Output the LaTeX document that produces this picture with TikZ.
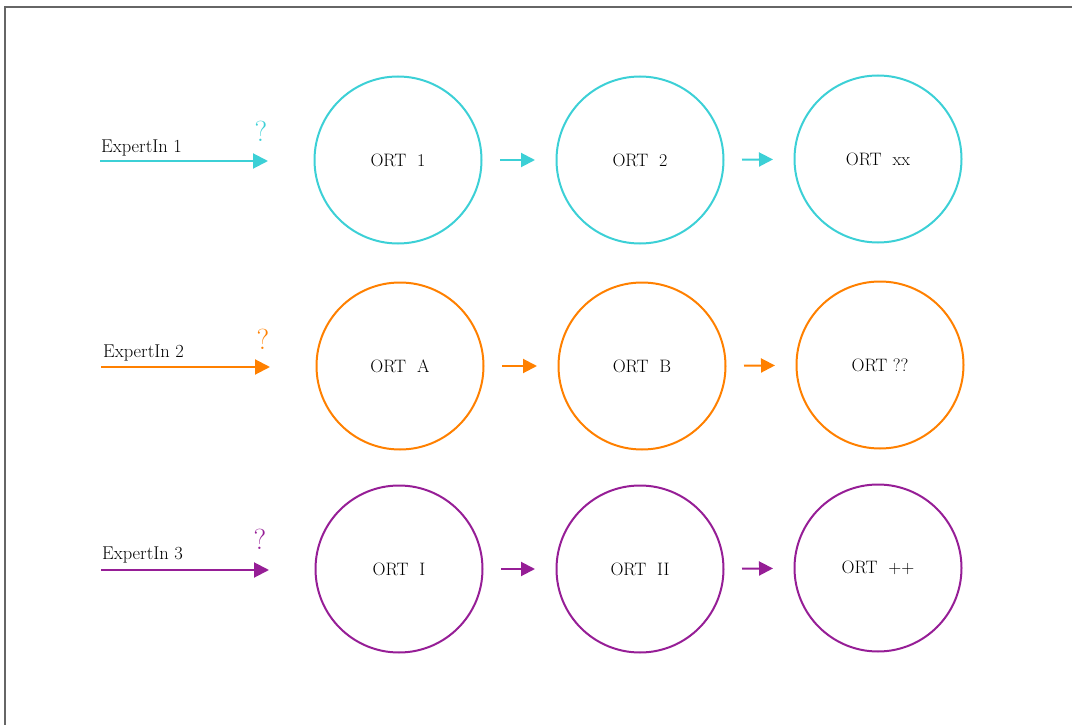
\documentclass[tikz,border=0pt]{standalone}
\usetikzlibrary{arrows.meta}
\definecolor{cy}{RGB}{60,208,214}
\definecolor{og}{RGB}{255,128,0}
\definecolor{pu}{RGB}{150,30,150}
\begin{document}
\begin{tikzpicture}[x=1pt,y=-1pt,
  ort/.style={circle,draw=#1,line width=2pt,minimum size=167pt,inner sep=0pt,font=\fontsize{18}{21}\selectfont},
  link/.style={draw=#1,line width=2pt,-{Triangle[length=14pt,width=14pt]},shorten <=17.5pt,shorten >=20.5pt},
  lead/.style={draw=#1,line width=2pt,-{Triangle[length=15pt,width=15pt]}},
  lbl/.style={anchor=base west,inner sep=0pt,font=\fontsize{18.5}{21}\selectfont},
  qm/.style={text=#1,inner sep=0pt,font=\fontsize{29}{31}\selectfont}]
\useasboundingbox (0,0) rectangle (1072,725);
\draw[line width=1.5pt,draw=black!60] (5,726) -- (5,7) -- (1073,7);
% row 1
\node[ort=cy] (a1) at (398,160) {ORT\ \ 1};
\node[ort=cy] (a2) at (640,160) {ORT\ \ 2};
\node[ort=cy] (a3) at (878,159) {ORT\ \ xx};
\draw[link=cy] (a1) -- (a2);
\draw[link=cy] (a2) -- (a3);
\coordinate (s1) at (100,161);
\coordinate (e1) at (268,161);
\draw[lead=cy] (s1) -- (e1);
\node[lbl] (t1) at (101,152) {ExpertIn 1};
\node[qm=cy] (q1) at (261,131) {?};
% row 2
\node[ort=og] (b1) at (400,366) {ORT\ \ A};
\node[ort=og] (b2) at (642,366) {ORT\ \ B};
\node[ort=og] (b3) at (880,365) {ORT\ ??};
\draw[link=og] (b1) -- (b2);
\draw[link=og] (b2) -- (b3);
\coordinate (s2) at (101,367);
\coordinate (e2) at (270,367);
\draw[lead=og] (s2) -- (e2);
\node[lbl] (t2) at (103,357) {ExpertIn 2};
\node[qm=og] (q2) at (263,339) {?};
% row 3
\node[ort=pu] (c1) at (399,569) {ORT\ \ I};
\node[ort=pu] (c2) at (640,569) {ORT\ \ II};
\node[ort=pu] (c3) at (878,568) {ORT\ \ ++};
\draw[link=pu] (c1) -- (c2);
\draw[link=pu] (c2) -- (c3);
\coordinate (s3) at (101,570);
\coordinate (e3) at (269,570);
\draw[lead=pu] (s3) -- (e3);
\node[lbl] (t3) at (102,559) {ExpertIn 3};
\node[qm=pu] (q3) at (260,539) {?};
\end{tikzpicture}
\end{document}
